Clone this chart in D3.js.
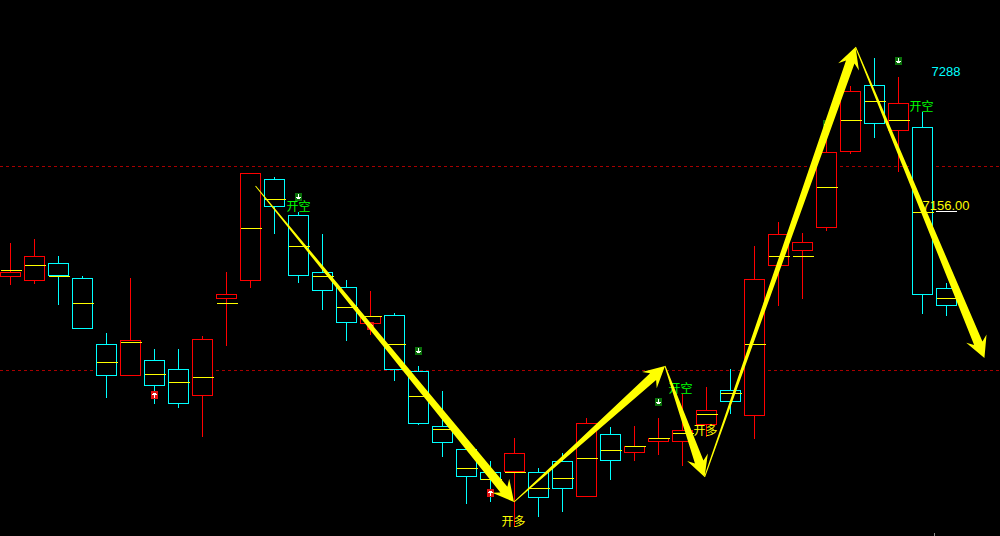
<!DOCTYPE html>
<html><head><meta charset="utf-8">
<script src="https://cdn.jsdelivr.net/npm/d3@7"></script>
<style>html,body{margin:0;padding:0;background:#000;overflow:hidden}svg{display:block}</style>
</head><body><script>
const directions = ["u","u","d","d","d","u","d","d","u","u","u","d","d","d","d","u","d","d","d","d","d","u","d","d","u","d","u","u","u","u","d","u","u","u","u","u","d","u","d","d"];
const highs = [7125,7129,7112,7092,7035,7090,7019,7019,7032,7096,7195,7191,7156,7134,7088,7077,7055,7002,6977,6919,6907,6930,6900,6915,6950,6941,6942,6950,6974,6981,6999,7122,7146,7135,7248,7282,7310,7291,7256,7085];
const lows = [7083,7084,7063,7039,6970,6992,6964,6960,6931,7022,7080,7134,7085,7058,7027,7033,6987,6943,6911,6864,6866,6841,6851,6856,6871,6888,6907,6913,6902,6931,6954,6929,7062,7069,7137,7214,7230,7196,7054,7052];
const opens = [7096.5,7112,7092,7039,7024,7028,6982,6964,6972,7069,7087,7161,7092,7077,7045,7044,6998,6944,6925,6891,6888,6915,6870,6879,6945,6907,6915,6926,6938,6958,6966,7089,7134,7117,7216,7277,7244,7237,7073,7062];
const closes = [7091.5,7087,7105,7090,6992,6992,7008,6999,7029,7074,7195,7189,7153,7096,7081,7052,7053,6997,6942,6919,6896,6896,6896,6907,6871,6934,6922,6930,6926,6943,6978,6952,7102,7126,7140,7216,7283,7265,7241,7080];
const midLines = [7098.5,7103,7092.5,7065,7006,7026,6994,6986,6991,7065,7140,7169,7122,7092,7061,7052,7024,6972,6939,6900,6889,6896,6880,6890,6910,6918,6922,6930,6935,6954,6975,7024,7112,7112,7181,7248,7267,7248,7156,7070];
const guideLevels = [7202,6998];
const sellFlags = [[12,7171],[17,7017],[27,6966],[37,7307],[34,7244]];
const buyFlags = [[6,6973],[15,7042],[20,6875]];
const shortLabels = [[12,7160,"开空"],[27.92,6978,"开空"],[37.96,7260,"开空"]];
const longLabels = [[20.96,6845,"开多"],[28.96,6936,"开多"]];
const pivotIndex = [10.21,20.98,27.27,28.92,35.21,40.58];
const pivotPrice = [7182,6866,7002,6891,7321,7010];
const priceLabels = [["7288",7295.5,"#00ffff"],["7156.00",7161.5,"#ffff00"]];

const W = 1000, H = 536;
const x = d3.scaleLinear().domain([0, 40]).range([10.5, 970.5]);
const y = d3.scaleLinear().domain([7368, 6832]).range([0, 536]);
const svg = d3.select("body").append("svg").attr("width", W).attr("height", H);
svg.append("rect").attr("width", W).attr("height", H).attr("fill", "#000");
const crisp = svg.append("g").attr("shape-rendering", "crispEdges");

crisp.selectAll(".guide").data(guideLevels).join("line").attr("class","guide")
  .attr("x1",0).attr("x2",W).attr("y1",d=>y(d)+.5).attr("y2",d=>y(d)+.5)
  .attr("stroke","#a80000").attr("stroke-dasharray","3 3");

const rows = directions.map((c,i)=>({i,c,h:highs[i],l:lows[i],o:opens[i],cl:closes[i],m:midLines[i]}));
const col = d => d.c === "u" ? "#ff0000" : "#00ffff";
const g = crisp.selectAll(".candle").data(rows).join("g").attr("class","candle");
g.append("line").attr("x1",d=>x(d.i)).attr("x2",d=>x(d.i))
  .attr("y1",d=>Math.round(y(d.h))).attr("y2",d=>Math.round(y(d.l))).attr("stroke",col);
g.append("rect").attr("x",d=>x(d.i)-10)
  .attr("y",d=>Math.round(y(Math.max(d.o,d.cl)))+.5).attr("width",20)
  .attr("height",d=>Math.max(1,Math.round(Math.abs(y(d.o)-y(d.cl)))-1))
  .attr("fill","#000").attr("stroke",col);
g.append("line").attr("x1",d=>x(d.i)-10).attr("x2",d=>x(d.i)+11)
  .attr("y1",d=>Math.round(y(d.m))+.5).attr("y2",d=>Math.round(y(d.m))+.5).attr("stroke","#ffff00");

function flag(data, fill, up){
  const f = crisp.selectAll(null).data(data).join("g")
    .attr("transform",d=>`translate(${Math.floor(x(d[0]))-3},${Math.round(y(d[1]))-4})`);
  f.append("rect").attr("width",7).attr("height",8).attr("fill",fill);
  f.append("path").attr("fill","none").attr("stroke","#fff")
    .attr("d", up ? "M3.5 2V7M1 3.5H6M2 2.5H5" : "M3.5 1V6M1 4.5H6M2 5.5H5");
}
flag(sellFlags,"#0a700a",false);
flag(buyFlags,"#e01010",true);

const cjk = '"Noto Sans CJK SC","Noto Sans",sans-serif';
function tag(data,color){
  svg.selectAll(null).data(data).join("text")
    .attr("x",d=>x(d[0])).attr("y",d=>y(d[1])).attr("text-anchor","middle")
    .attr("dominant-baseline","middle")
    .attr("font-family",cjk).attr("font-size",12).attr("fill",color).text(d=>d[2]);
}
tag(shortLabels,"#00ff00");
tag(longLabels,"#ffff00");

const pts = pivotIndex.map((p,i)=>[x(p),y(pivotPrice[i])]);
const arrows = d3.pairs(pts).map(([a,b])=>{
  const dx=b[0]-a[0], dy=b[1]-a[1], L=Math.hypot(dx,dy), ux=dx/L, uy=dy/L, nx=-uy, ny=ux;
  const at=(back,off)=>[b[0]-ux*back+nx*off, b[1]-uy*back+ny*off];
  return [[a[0]+nx*.5,a[1]+ny*.5],at(16,4.5),at(21,11),b,at(21,-11),at(16,-4.5),[a[0]-nx*.5,a[1]-ny*.5]];
});
svg.selectAll(".arrow").data(arrows).join("path").attr("class","arrow")
  .attr("d",d=>d3.line()(d)+"Z").attr("fill","#ffff00");

svg.selectAll(".price").data(priceLabels).join("text").attr("class","price")
  .attr("x",946).attr("y",d=>y(d[1])).attr("text-anchor","middle")
  .attr("dominant-baseline","middle")
  .attr("font-family",'"Liberation Sans",Arial,sans-serif').attr("font-size",13)
  .attr("fill",d=>d[2]).text(d=>d[0]);
crisp.append("line").attr("x1",936).attr("x2",957).attr("y1",211.5).attr("y2",211.5).attr("stroke","#fff");
crisp.append("line").attr("x1",934.5).attr("x2",934.5).attr("y1",533).attr("y2",536).attr("stroke","#888");
</script></body></html>
